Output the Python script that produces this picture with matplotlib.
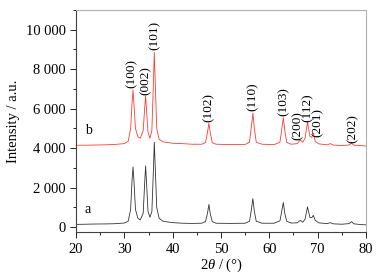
import numpy as np
import matplotlib
matplotlib.use("Agg")
import matplotlib.pyplot as plt
from matplotlib.ticker import MultipleLocator, FuncFormatter

plt.rcParams['font.family'] = ['Liberation Serif', 'DejaVu Serif']
plt.rcParams['mathtext.fontset'] = 'custom'
plt.rcParams['mathtext.rm'] = 'Liberation Serif'
plt.rcParams['mathtext.it'] = 'Liberation Serif:italic'

# 2theta positions
two_theta = [20, 22, 24, 26, 28, 30, 30.8, 31.3, 31.6, 31.8, 32.0, 32.3, 32.8, 33.3,
             33.9, 34.2, 34.4, 34.6, 34.9, 35.3, 35.7, 36.0, 36.2, 36.4, 36.7, 37.2,
             38, 40, 42, 44, 46, 46.8, 47.2, 47.5, 47.8, 48.2, 49, 52, 55, 55.9, 56.3,
             56.6, 56.9, 57.3, 58.5, 61, 62.2, 62.6, 62.9, 63.2, 63.6, 64.5, 65.8,
             66.4, 66.9, 67.4, 67.9, 68.4, 68.8, 69.1, 69.5, 70.2, 72.0, 72.6, 73.2,
             75, 76.5, 77, 77.5, 79, 80]

# curve a (black)
int_a = [140, 150, 160, 165, 175, 210, 300, 900, 2400, 3050, 2300, 900, 450, 370,
         700, 2200, 3100, 2200, 800, 500, 800, 2800, 4300, 3000, 1000, 450,
         300, 230, 200, 190, 200, 280, 700, 1150, 650, 280, 200, 190, 200, 300, 900,
         1450, 800, 300, 200, 200, 320, 850, 1250, 700, 300, 210, 220,
         350, 250, 400, 1030, 500, 480, 600, 350, 220, 180, 230, 170,
         150, 180, 280, 170, 130, 120]

# curve b (red)
int_b = [4150, 4150, 4160, 4170, 4190, 4230, 4350, 5000, 6300, 6950, 6200, 5000, 4580, 4500,
         4900, 6000, 6650, 5900, 4800, 4500, 4900, 7200, 8850, 7300, 5000, 4450,
         4320, 4250, 4230, 4200, 4200, 4280, 4800, 5260, 4750, 4280, 4200, 4180, 4190, 4300, 5100,
         5770, 5000, 4300, 4200, 4180, 4300, 5000, 5550, 4900, 4300, 4200, 4230,
         4420, 4300, 4500, 5320, 4600, 4550, 4760, 4350, 4220, 4170, 4230, 4160,
         4130, 4160, 4250, 4150, 4130, 4110]

# reflection labels: text, x, y of text base
hkl = ['(100)', '(002)', '(101)', '(102)', '(110)', '(103)', '(200)', '(112)', '(201)', '(202)']
hkl_x = [31.6, 34.4, 36.2, 47.5, 56.6, 62.9, 65.9, 68.0, 70.1, 77.2]
hkl_y = [7050, 6700, 8950, 5350, 5870, 5650, 4420, 5350, 4550, 4250]

fig = plt.figure(figsize=(3.82, 2.76), dpi=100)
ax = fig.add_axes([0.199, 0.159, 0.759, 0.805])

ax.plot(two_theta, int_a, color='#333333', lw=0.6)
ax.plot(two_theta, int_b, color='#ff3b30', lw=0.6)

for t, x, y in zip(hkl, hkl_x, hkl_y):
    ax.text(x, y, t, rotation=90, ha='center', va='bottom', fontsize=9.5)

ax.text(21.8, 550, 'a', fontsize=10, ha='left', va='bottom')
ax.text(21.8, 4550, 'b', fontsize=10, ha='left', va='bottom')

ax.set_xlim(20, 80)
ax.set_ylim(-250, 11000)
ax.xaxis.set_major_locator(MultipleLocator(10))
ax.xaxis.set_minor_locator(MultipleLocator(5))
ax.yaxis.set_major_locator(MultipleLocator(2000))
ax.yaxis.set_minor_locator(MultipleLocator(1000))
ax.yaxis.set_major_formatter(FuncFormatter(lambda v, p: f"{int(v):,}".replace(',', ' ')))
ax.tick_params(which='both', direction='out', labelsize=10.5, width=0.6)
ax.tick_params(which='major', length=4)
ax.tick_params(which='minor', length=2)
ax.tick_params(top=False, right=False)
for s in ax.spines.values():
    s.set_color('#b0b0b0')
    s.set_linewidth(0.8)
ax.spines['left'].set_color('#404040')
ax.spines['bottom'].set_color('#404040')

ax.set_xlabel(r'$2\it{\theta}$ / (°)', fontsize=10.5, labelpad=1)
ax.set_ylabel('Intensity / a.u.', fontsize=10.5)

fig.savefig('out.png', dpi=100)
